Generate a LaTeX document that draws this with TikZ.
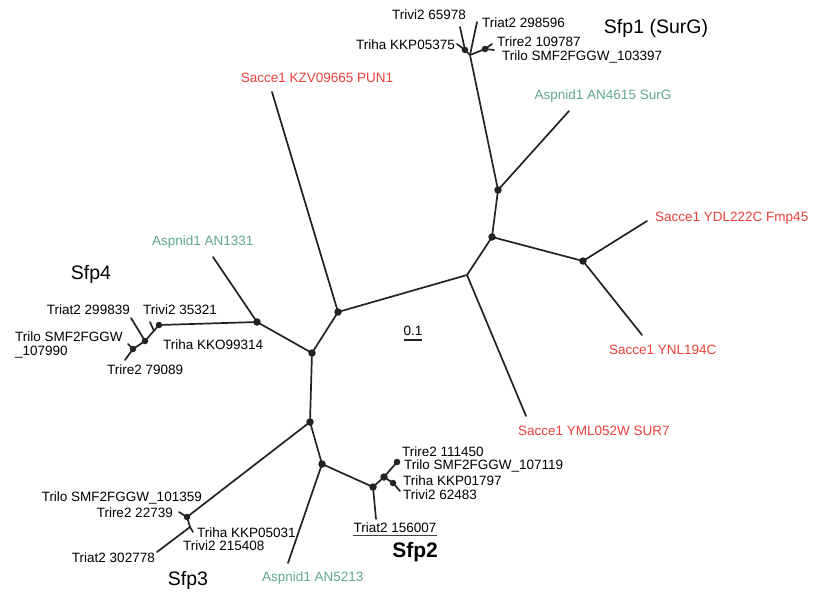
\documentclass[tikz,border=0pt]{standalone}
\usepackage{fontspec}
\setmainfont{Liberation Sans}
\definecolor{sred}{RGB}{232,66,58}
\definecolor{agreen}{RGB}{98,168,140}
\definecolor{lineg}{RGB}{35,35,35}
\begin{document}
\begin{tikzpicture}[x=1pt,y=-1pt,
  br/.style={draw=lineg,line width=1.7pt,line cap=round},
  dot/.style={circle,fill=lineg,inner sep=0pt,minimum size=7.5pt},
  sdot/.style={circle,fill=lineg,inner sep=0pt,minimum size=6.5pt},
  lab/.style={font=\fontsize{13.5}{15}\selectfont,inner sep=0pt,text=black},
  redlab/.style={lab,text=sred},
  greenlab/.style={lab,text=agreen},
  big/.style={font=\fontsize{19.5}{22}\selectfont,inner sep=0pt}]
\fill[white] (0,0) rectangle (813,602);
\useasboundingbox (0,0) rectangle (813,602);
% internal nodes
\node[dot] (n1) at (338,312) {};
\coordinate (n2) at (467,275);
\node[dot] (n3) at (312,353) {};
\node[dot] (n4) at (492,237) {};
\node[dot] (n5) at (498,190) {};
\node[dot] (n6) at (583,261) {};
\node[dot] (n8) at (257,322) {};
\node[dot] (n9) at (310,422) {};
\node[dot] (n10) at (322,464) {};
\node[dot] (n11) at (373,487) {};
\node[dot] (n12) at (384,477) {};
\node[sdot] (s2a) at (397,462) {};
\node[sdot] (s2b) at (393,483) {};
% Sfp1 cluster
\coordinate (s1) at (470,55);
\node[sdot] (s1a) at (465,50) {};
\node[sdot] (s1b) at (485,49) {};
% Sfp4 cluster
\node[sdot] (s4a) at (159,325) {};
\node[sdot] (s4b) at (145,341) {};
\node[sdot] (s4c) at (133,349) {};
\coordinate (s4t) at (154,331);
% Sfp3 cluster
\node[sdot] (s3) at (187,517) {};
\coordinate (s3j) at (190,527);
% tips
\coordinate (tPUN) at (272,92);
\coordinate (tSUR7) at (526,416);
\coordinate (tFmp) at (647,221);
\coordinate (tYNL) at (642,335);
\coordinate (tSurG) at (569,111);
\coordinate (tAN1331) at (213,257);
\coordinate (tAN5213) at (288,563);
\coordinate (t1vi) at (460,27);
\coordinate (t1ha) at (457,44);
\coordinate (t1at) at (477,22);
\coordinate (t1re) at (492,44);
\coordinate (t1lo) at (494,50);
\coordinate (t4vi) at (150,322);
\coordinate (t4at) at (131,318);
\coordinate (t4lo) at (128,344);
\coordinate (t4re) at (125,360);
\coordinate (t3re) at (179,512);
\coordinate (t3at) at (157,552);
\coordinate (t3ha) at (193,532);
\coordinate (t2at) at (376,519);
\coordinate (t2vi) at (400,491);
% branches
\draw[br] (n1.center) -- (tPUN);
\draw[br] (n1.center) -- (n2);
\draw[br] (n1.center) -- (n3.center);
\draw[br] (n2) -- (tSUR7);
\draw[br] (n2) -- (n4.center);
\draw[br] (n4.center) -- (n5.center);
\draw[br] (n4.center) -- (n6.center);
\draw[br] (n6.center) -- (tFmp);
\draw[br] (n6.center) -- (tYNL);
\draw[br] (n5.center) -- (tSurG);
\draw[br] (n5.center) -- (s1);
\draw[br] (s1) -- (s1a.center) -- (t1vi);
\draw[br] (s1a.center) -- (t1ha);
\draw[br] (s1) -- (t1at);
\draw[br] (s1) -- (s1b.center) -- (t1re);
\draw[br] (s1b.center) -- (t1lo);
\draw[br] (n3.center) -- (n8.center);
\draw[br] (n8.center) -- (tAN1331);
\draw[br] (n8.center) -- (s4a.center) -- (s4b.center);
\draw[br] (s4t) -- (t4vi);
\draw[br] (s4b.center) -- (t4at);
\draw[br] (s4b.center) -- (s4c.center) -- (t4re);
\draw[br] (s4c.center) -- (t4lo);
\draw[br] (n3.center) -- (n9.center);
\draw[br] (n9.center) -- (s3.center);
\draw[br] (s3.center) -- (t3re);
\draw[br] (s3.center) -- (s3j) -- (t3at);
\draw[br] (s3j) -- (t3ha);
\draw[br] (n9.center) -- (n10.center);
\draw[br] (n10.center) -- (tAN5213);
\draw[br] (n10.center) -- (n11.center);
\draw[br] (n11.center) -- (t2at);
\draw[br] (n11.center) -- (n12.center) -- (s2a.center);
\draw[br] (n12.center) -- (s2b.center) -- (t2vi);
% labels: outgroups
\node[redlab] (lPUN) at (317,78) {Sacce1 KZV09665 PUN1};
\node[greenlab] (lSurG) at (603,96) {Aspnid1 AN4615 SurG};
\node[redlab,anchor=west] (lFmp) at (655,218) {Sacce1 YDL222C Fmp45};
\node[redlab,anchor=west] (lYNL) at (609,350) {Sacce1 YNL194C};
\node[redlab,anchor=west] (lSUR7) at (518,431) {Sacce1 YML052W SUR7};
\node[greenlab,anchor=west] (lAN1331) at (152,242) {Aspnid1 AN1331};
\node[greenlab,anchor=west] (lAN5213) at (262,578) {Aspnid1 AN5213};
% Sfp1
\node[big] (g1) at (656,28) {Sfp1 (SurG)};
\node[lab] (l1vi) at (429,15) {Trivi2 65978};
\node[lab,anchor=west] (l1at) at (482,23) {Triat2 298596};
\node[lab,anchor=east] (l1ha) at (455,45) {Triha KKP05375};
\node[lab,anchor=west] (l1re) at (497,42) {Trire2 109787};
\node[lab,anchor=west] (l1lo) at (502,57) {Trilo SMF2FGGW\_103397};
% Sfp4
\node[big] (g4) at (91,274) {Sfp4};
\node[lab,anchor=east] (l4at) at (130,310) {Triat2 299839};
\node[lab,anchor=west] (l4vi) at (143,310) {Trivi2 35321};
\node[lab,anchor=west] (l4ha) at (163,345) {Triha KKO99314};
\node[lab,anchor=west] (l4lo) at (15,337) {Trilo SMF2FGGW};
\node[lab,anchor=west] (l4lo2) at (15,352) {\_107990};
\node[lab,anchor=west] (l4re) at (107,370) {Trire2 79089};
% Sfp3
\node[big] (g3) at (188,580) {Sfp3};
\node[lab,anchor=east] (l3lo) at (202,498) {Trilo SMF2FGGW\_101359};
\node[lab,anchor=east] (l3re) at (173,513) {Trire2 22739};
\node[lab,anchor=west] (l3ha) at (197,533) {Triha KKP05031};
\node[lab,anchor=west] (l3vi) at (183,546) {Trivi2 215408};
\node[lab,anchor=east] (l3at) at (155,558) {Triat2 302778};
% Sfp2
\node[big,font=\fontsize{21}{24}\selectfont\bfseries] (g2) at (415,552) {Sfp2};
\node[lab,anchor=west] (l2re) at (402,452) {Trire2 111450};
\node[lab,anchor=west] (l2lo) at (404,466) {Trilo SMF2FGGW\_107119};
\node[lab,anchor=west] (l2ha) at (403,481) {Triha KKP01797};
\node[lab,anchor=west] (l2vi) at (403,495) {Trivi2 62483};
\node[lab] (l2at) at (395,528) {Triat2 156007};
\draw[black!75,line width=0.9pt] ([yshift=-2pt]l2at.south west) -- ([yshift=-2pt]l2at.south east);
% scale
\node[lab] (sc) at (413,331) {0.1};
\draw[lineg,line width=1.7pt] (404,340) -- (422,340);
\end{tikzpicture}
\end{document}
